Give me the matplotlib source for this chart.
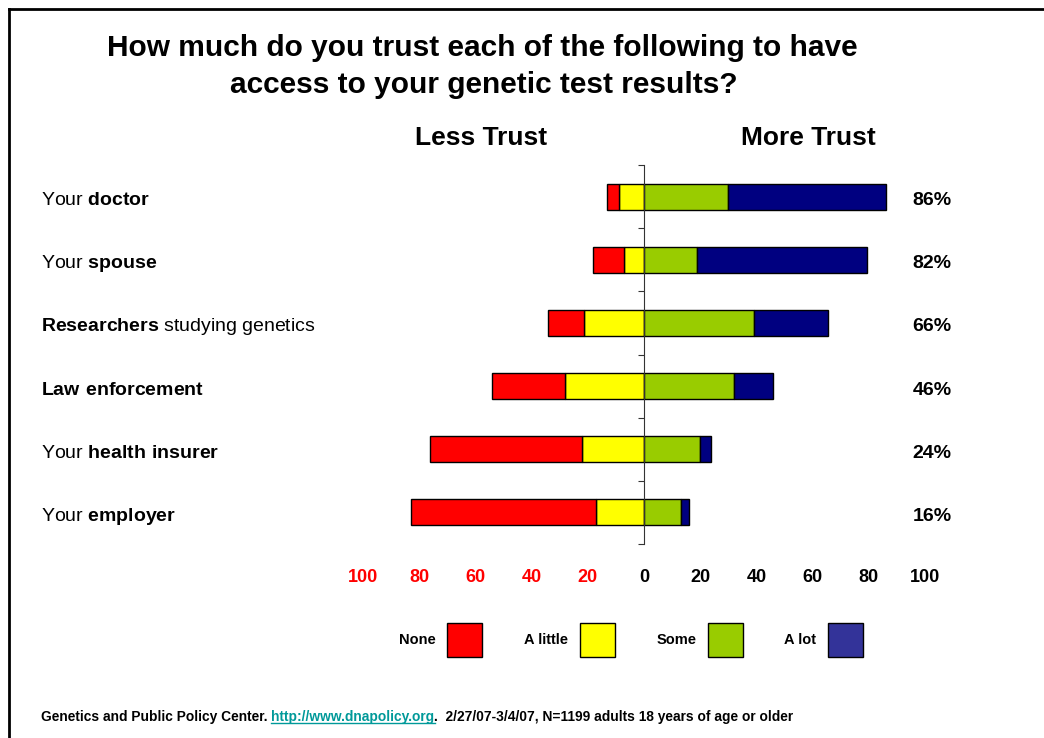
import matplotlib.pyplot as plt
import matplotlib.transforms as mtransforms
from matplotlib.patches import Patch
from matplotlib.lines import Line2D
import numpy as np

plt.rcParams['font.family'] = ['Liberation Sans', 'DejaVu Sans']
plt.rcParams['mathtext.fontset'] = 'custom'
plt.rcParams['mathtext.rm'] = 'Liberation Sans'
plt.rcParams['mathtext.bf'] = 'Liberation Sans:bold'

# data (percent)
labels = ['Your $\\bf{doctor}$', 'Your $\\bf{spouse}$',
          '$\\bf{Researchers}$ studying genetics', '$\\bf{Law\\ enforcement}$',
          'Your $\\bf{health\\ insurer}$', 'Your $\\bf{employer}$']
none = [4, 11, 12.5, 26, 54, 66]
a_little = [9, 7, 21.5, 28, 22, 17]
some = [30, 19, 39, 32, 20, 13]
a_lot = [56, 60.5, 26.5, 14, 4, 3]
totals = ['86%', '82%', '66%', '46%', '24%', '16%']

tick_vals = [-100, -80, -60, -40, -20, 0, 20, 40, 60, 80, 100]
tick_text = ['100', '80', '60', '40', '20', '0', '20', '40', '60', '80', '100']

bar_colors = ['#FF0000', '#FFFF00', '#99CC00', '#000080']
legend_colors = ['#FF0000', '#FFFF00', '#99CC00', '#333399']
legend_names = ['None', 'A little', 'Some', 'A lot']

W, H = 1044, 738
fig = plt.figure(figsize=(W / 100, H / 100), dpi=100)
ax = fig.add_axes([363 / W, 1 - 544 / H, (925 - 363) / W, (544 - 165) / H])

y = np.arange(len(labels)) + 0.5
none = np.array(none); a_little = np.array(a_little)
some = np.array(some); a_lot = np.array(a_lot)

kw = dict(height=0.41, edgecolor='black', linewidth=1)
ax.barh(y, -a_little, left=0, color=bar_colors[1], **kw)
ax.barh(y, -none, left=-a_little, color=bar_colors[0], **kw)
ax.barh(y, some, left=0, color=bar_colors[2], **kw)
ax.barh(y, a_lot, left=some, color=bar_colors[3], **kw)

ax.set_xlim(-100, 100)
ax.set_ylim(len(labels), 0)

for s in ['top', 'right', 'bottom']:
    ax.spines[s].set_visible(False)
ax.spines['left'].set_position(('data', 0))
ax.spines['left'].set_color('#333333')
ax.set_yticks(np.arange(len(labels) + 1))
ax.set_yticklabels([])
ax.tick_params(axis='y', direction='out', length=4, color='#333333')

ax.set_xticks(tick_vals)
ax.set_xticklabels(tick_text, fontsize=13, fontweight='bold')
ax.tick_params(axis='x', length=0, pad=18)
for t, v in zip(ax.get_xticklabels(), tick_vals):
    t.set_color('#FF0000' if v < 0 else 'black')

# labels sit a few pixels below the bar centre in the original
down = mtransforms.ScaledTranslation(0, -4 / 100, fig.dpi_scale_trans)
lab_trans = mtransforms.blended_transform_factory(fig.transFigure, ax.transData) + down
for yi, lab, tot in zip(y, labels, totals):
    fig.text(41 / W, yi, lab, fontsize=14, va='center', ha='left',
             transform=lab_trans)
    ax.text(102.5, yi, tot, fontsize=14, fontweight='bold', va='center', ha='center',
            transform=ax.transData + down)

fig.text(482 / W, 1 - 48 / H, 'How much do you trust each of the following to have',
         fontsize=21.5, fontweight='bold', ha='center', va='center')
fig.text(484 / W, 1 - 85 / H, 'access to your genetic test results?',
         fontsize=21.5, fontweight='bold', ha='center', va='center')
fig.text(481 / W, 1 - 138 / H, 'Less Trust', fontsize=19, fontweight='bold',
         ha='center', va='center')
fig.text(808 / W, 1 - 138 / H, 'More Trust', fontsize=19, fontweight='bold',
         ha='center', va='center')

handles = [Patch(facecolor=c, edgecolor='black', linewidth=1) for c in legend_colors]
fig.legend(handles, legend_names, loc='center', bbox_to_anchor=(631 / W, 1 - 640 / H),
           ncol=4, markerfirst=False, frameon=False, handlelength=2.4, handleheight=3.2,
           handletextpad=0.8, columnspacing=2.85, prop={'weight': 'bold', 'size': 10.5})

# footer with link
renderer = fig.canvas.get_renderer()
fy = 1 - 717 / H
parts = [('Genetics and Public Policy Center. ', 'black'),
         ('http://www.dnapolicy.org', '#009999'),
         ('.  2/27/07-3/4/07, N=1199 adults 18 years of age or older', 'black')]
x0 = 41
for txt, col in parts:
    t = fig.text(x0 / W, fy, txt, fontsize=9.9, fontweight='bold', color=col,
                 ha='left', va='center')
    bb = t.get_window_extent(renderer)
    if col != 'black':
        fig.add_artist(Line2D([bb.x0 / W, bb.x1 / W], [(bb.y0 + 1) / H] * 2,
                              color=col, linewidth=1))
    x0 = bb.x1

# frame
fig.add_artist(Line2D([9 / W, 1], [1 - 9 / H] * 2, color='black', linewidth=2))
fig.add_artist(Line2D([9 / W] * 2, [1 - 9 / H, 0], color='black', linewidth=2))

fig.savefig('out.png', dpi=100)
